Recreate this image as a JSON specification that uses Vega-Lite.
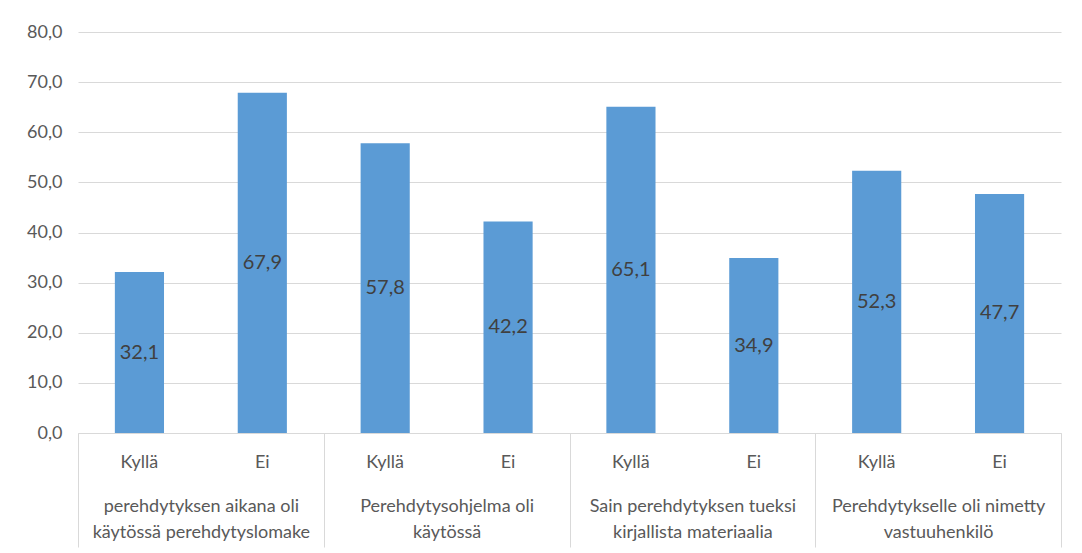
{
  "$schema": "https://vega.github.io/schema/vega-lite/v6.json",
  "width": 983,
  "height": 401,
  "autosize": {"type": "none"},
  "padding": {"left": 78, "top": 32, "right": 21, "bottom": 120},
  "config": {
    "font": "Lato",
    "view": {"stroke": null},
    "locale": {"number": {"decimal": ",", "thousands": " ", "grouping": [3], "currency": ["", " €"]}}
  },
  "layer": [
    {
      "data": {"values": [
        {"bar": "g1|Kyllä", "value": 32.1},
        {"bar": "g1|Ei", "value": 67.9},
        {"bar": "g2|Kyllä", "value": 57.8},
        {"bar": "g2|Ei", "value": 42.2},
        {"bar": "g3|Kyllä", "value": 65.1},
        {"bar": "g3|Ei", "value": 34.9},
        {"bar": "g4|Kyllä", "value": 52.3},
        {"bar": "g4|Ei", "value": 47.7}
      ]},
      "transform": [{"calculate": "datum.value / 2", "as": "mid"}],
      "encoding": {
        "x": {
          "field": "bar", "type": "nominal", "sort": null,
          "scale": {"paddingInner": 0.6, "paddingOuter": 0.3},
          "axis": {
            "orient": "bottom", "title": null, "ticks": false,
            "domain": true, "domainColor": "#D9D9D9", "domainWidth": 1,
            "labelExpr": "split(datum.label, '|')[1]",
            "labelAngle": 0, "labelFontSize": 18, "labelColor": "#595959",
            "labelPadding": 20, "labelBaseline": "top"
          }
        }
      },
      "layer": [
        {
          "mark": {"type": "bar", "color": "#5B9BD5"},
          "encoding": {
            "y": {
              "field": "value", "type": "quantitative",
              "scale": {"domain": [0, 80], "nice": false},
              "axis": {
                "title": null, "domain": false, "ticks": false,
                "values": [0, 10, 20, 30, 40, 50, 60, 70, 80],
                "format": ".1f", "grid": true, "gridColor": "#D9D9D9",
                "labelFontSize": 18, "labelColor": "#595959", "labelPadding": 16
              }
            }
          }
        },
        {
          "mark": {"type": "text", "fontSize": 20, "color": "#404040", "baseline": "middle"},
          "encoding": {
            "y": {"field": "mid", "type": "quantitative"},
            "text": {"field": "value", "type": "quantitative", "format": ".1f"}
          }
        }
      ]
    },
    {
      "data": {"values": [
        {"group": "perehdytyksen aikana oli\nkäytössä perehdytyslomake"},
        {"group": "Perehdytysohjelma oli\nkäytössä"},
        {"group": "Sain perehdytyksen tueksi\nkirjallista materiaalia"},
        {"group": "Perehdytykselle oli nimetty\nvastuuhenkilö"}
      ]},
      "mark": {"type": "text", "text": ""},
      "encoding": {
        "x": {
          "field": "group", "type": "nominal", "sort": null,
          "scale": {"paddingInner": 0, "paddingOuter": 0},
          "axis": {
            "orient": "bottom", "title": null, "domain": false,
            "ticks": true, "tickBand": "extent", "tickSize": 114,
            "tickColor": "#D9D9D9", "tickWidth": 1,
            "labelExpr": "split(datum.label, '\\n')",
            "labelAngle": 0, "labelFontSize": 18, "labelColor": "#595959",
            "labelPadding": -50, "labelBaseline": "top", "labelLineHeight": 26,
            "labelLimit": 0
          }
        }
      }
    }
  ],
  "resolve": {"scale": {"x": "independent"}}
}
